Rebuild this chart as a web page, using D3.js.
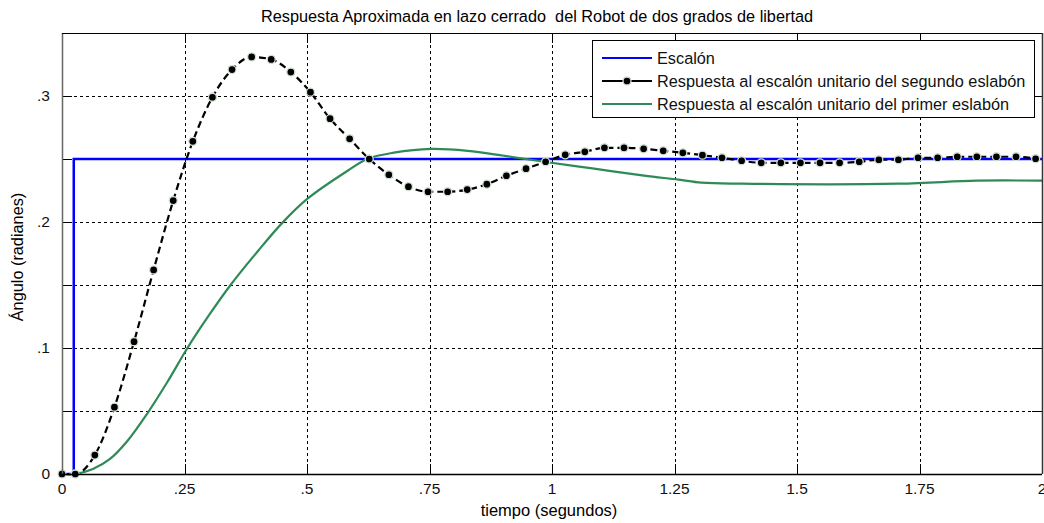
<!DOCTYPE html>
<html>
<head>
<meta charset="utf-8">
<script src="https://cdn.jsdelivr.net/npm/d3@7"></script>
<style>
  body { margin: 0; background: #fff; }
  svg { font-family: "Liberation Sans", Arial, sans-serif; }
</style>
</head>
<body>
<svg width="1044" height="523"></svg>
<script>
// chart values
var stepT = [0, 0.024, 0.024, 2];
var stepV = [0, 0, 0.25, 0.25];

// respuesta del segundo eslabon (black, markers)
var link2T = [0, 0.027, 0.067, 0.107, 0.147, 0.187, 0.227, 0.267, 0.307, 0.347,
  0.387, 0.427, 0.467, 0.507, 0.547, 0.587, 0.627, 0.667, 0.707, 0.747,
  0.787, 0.827, 0.867, 0.907, 0.947, 0.987, 1.027, 1.067, 1.107, 1.147,
  1.187, 1.227, 1.267, 1.307, 1.347, 1.387, 1.427, 1.467, 1.507, 1.547,
  1.587, 1.627, 1.667, 1.707, 1.747, 1.787, 1.827, 1.867, 1.907, 1.947, 1.987];
var link2V = [0, 0, 0.015, 0.053, 0.105, 0.162, 0.217, 0.264, 0.299, 0.321,
  0.331, 0.329, 0.319, 0.303, 0.282, 0.266, 0.250, 0.2375, 0.228, 0.224,
  0.224, 0.2257, 0.230, 0.2367, 0.2423, 0.2478, 0.2533, 0.2557, 0.2589, 0.2589,
  0.2581, 0.2565, 0.2549, 0.2530, 0.2510, 0.2486, 0.2470, 0.2470, 0.2470, 0.2470,
  0.2470, 0.2478, 0.2494, 0.2494, 0.2510, 0.2510, 0.2518, 0.2518, 0.2518, 0.2518, 0.2502];

// respuesta del primer eslabon (green)
var link1T = [0, 0.027, 0.063, 0.098, 0.133, 0.174, 0.215, 0.256, 0.300, 0.344, 0.400, 0.450,
  0.501, 0.583, 0.624, 0.677, 0.753, 0.828, 0.902, 0.984, 1.086, 1.188,
  1.258, 1.305, 1.387, 1.708, 1.867, 2.0];
var link1V = [0, 0, 0.004, 0.012, 0.026, 0.048, 0.073, 0.100, 0.126, 0.150, 0.177, 0.1995,
  0.2185, 0.2407, 0.2502, 0.255, 0.258, 0.2565, 0.2526, 0.2478, 0.2423, 0.2368,
  0.2336, 0.2312, 0.2304, 0.2304, 0.2328, 0.2328];

var xTicks = [0, 0.25, 0.5, 0.75, 1, 1.25, 1.5, 1.75, 2];
var xTickLabels = ["0", ".25", ".5", ".75", "1", "1.25", "1.5", "1.75", "2"];
var yTicks = [0, 0.05, 0.1, 0.15, 0.2, 0.25, 0.3, 0.35];
var yTickLabels = ["0", "", ".1", "", ".2", "", ".3", ""];

var legendNames = ["Escalón",
  "Respuesta al escalón unitario del segundo eslabón",
  "Respuesta al escalón unitario del primer eslabón"];

var svg = d3.select("svg");
var mLeft = 62, mRight = 1042, mTop = 33, mBottom = 474;

var x = d3.scaleLinear().domain([0, 2]).range([mLeft, mRight]);
var y = d3.scaleLinear().domain([0, 0.35]).range([mBottom, mTop]);

// grid
var grid = svg.append("g").attr("stroke", "#000").attr("stroke-width", 1)
  .attr("stroke-dasharray", "3,3").attr("shape-rendering", "crispEdges");
grid.selectAll(".gx").data(xTicks.slice(1, -1)).enter().append("line")
  .attr("x1", function(d) { return Math.round(x(d)) + 0.5; })
  .attr("x2", function(d) { return Math.round(x(d)) + 0.5; })
  .attr("y1", mTop).attr("y2", mBottom);
grid.selectAll(".gy").data(yTicks.slice(1, -1)).enter().append("line")
  .attr("y1", function(d) { return Math.round(y(d)) + 0.5; })
  .attr("y2", function(d) { return Math.round(y(d)) + 0.5; })
  .attr("x1", mLeft).attr("x2", mRight);

// ticks on all four sides, pointing in
var ticks = svg.append("g").attr("stroke", "#000").attr("shape-rendering", "crispEdges");
xTicks.forEach(function(d) {
  var px = Math.round(x(d)) + 0.5;
  ticks.append("line").attr("x1", px).attr("x2", px).attr("y1", mBottom).attr("y2", mBottom - 10);
  ticks.append("line").attr("x1", px).attr("x2", px).attr("y1", mTop).attr("y2", mTop + 10);
});
yTicks.forEach(function(d) {
  var py = Math.round(y(d)) + 0.5;
  ticks.append("line").attr("x1", mLeft).attr("x2", mLeft + 10).attr("y1", py).attr("y2", py);
  ticks.append("line").attr("x1", mRight).attr("x2", mRight - 10).attr("y1", py).attr("y2", py);
});

var line = d3.line()
  .x(function(d) { return x(d[0]); })
  .y(function(d) { return y(d[1]); });

var stepData = d3.zip(stepT, stepV);
var link2Data = d3.zip(link2T, link2V);
var link1Data = d3.zip(link1T, link1V);

svg.append("path").datum(stepData).attr("d", line)
  .attr("fill", "none").attr("stroke", "#0000ff").attr("stroke-width", 2.5);

svg.append("path").datum(link1Data).attr("d", line.curve(d3.curveCatmullRom))
  .attr("fill", "none").attr("stroke", "#2e8b57").attr("stroke-width", 2.2);

svg.append("path").datum(link2Data).attr("d", line.curve(d3.curveMonotoneX))
  .attr("fill", "none").attr("stroke", "#000").attr("stroke-width", 2.2)
  .attr("stroke-dasharray", "7,4");

svg.selectAll(".mk").data(link2Data).enter().append("circle")
  .attr("cx", function(d) { return x(d[0]); })
  .attr("cy", function(d) { return y(d[1]); })
  .attr("r", 4)
  .attr("fill", "#000").attr("stroke", "#d3e3d3").attr("stroke-width", 1.3);

// frame
svg.append("line").attr("x1", mLeft + 0.5).attr("x2", mLeft + 0.5).attr("y1", mTop).attr("y2", mBottom)
  .attr("stroke", "#666").attr("stroke-width", 1.5);
svg.append("line").attr("x1", mLeft).attr("x2", mRight).attr("y1", mBottom + 0.5).attr("y2", mBottom + 0.5)
  .attr("stroke", "#000").attr("stroke-width", 1.5);
svg.append("line").attr("x1", mLeft).attr("x2", mRight).attr("y1", mTop + 0.5).attr("y2", mTop + 0.5)
  .attr("stroke", "#000").attr("stroke-width", 1);
svg.append("line").attr("x1", mRight + 0.5).attr("x2", mRight + 0.5).attr("y1", mTop).attr("y2", mBottom)
  .attr("stroke", "#333").attr("stroke-width", 1.5);

// tick labels
svg.selectAll(".xl").data(xTicks).enter().append("text")
  .attr("x", function(d) { return x(d); })
  .attr("y", mBottom + 20)
  .attr("text-anchor", "middle").attr("font-size", "15.5px").attr("fill", "#111")
  .text(function(d, i) { return xTickLabels[i]; });
svg.selectAll(".yl").data(yTicks).enter().append("text")
  .attr("x", mLeft - 12)
  .attr("y", function(d) { return y(d) + 5; })
  .attr("text-anchor", "end").attr("font-size", "15.5px").attr("fill", "#111")
  .text(function(d, i) { return yTickLabels[i]; });

// title and axis labels
svg.append("text").attr("x", 537).attr("y", 22).attr("text-anchor", "middle")
  .attr("font-size", "16.3px").attr("xml:space", "preserve")
  .text("Respuesta Aproximada en lazo cerrado  del Robot de dos grados de libertad");
svg.append("text").attr("x", 549).attr("y", 516).attr("text-anchor", "middle")
  .attr("font-size", "16.5px").text("tiempo (segundos)");
svg.append("text").attr("transform", "translate(23,257) rotate(-90)")
  .attr("text-anchor", "middle").attr("font-size", "16.3px").text("Ángulo (radianes)");

// legend
var lg = svg.append("g");
lg.append("rect").attr("x", 592.5).attr("y", 40.5).attr("width", 442).attr("height", 77)
  .attr("fill", "#fff").attr("stroke", "#000");
var legendColors = ["#0000ff", "#000", "#2e8b57"];
legendNames.forEach(function(name, i) {
  var ly = 58 + i * 23;
  lg.append("line").attr("x1", 602).attr("x2", 652).attr("y1", ly).attr("y2", ly)
    .attr("stroke", legendColors[i]).attr("stroke-width", 2.2);
  if (i == 1) {
    lg.append("circle").attr("cx", 627).attr("cy", ly).attr("r", 4)
      .attr("fill", "#000").attr("stroke", "#d3e3d3").attr("stroke-width", 1.3);
  }
  lg.append("text").attr("x", 657).attr("y", ly + 6).attr("font-size", "16.3px").attr("fill", "#111")
    .text(name);
});
</script>
</body>
</html>
